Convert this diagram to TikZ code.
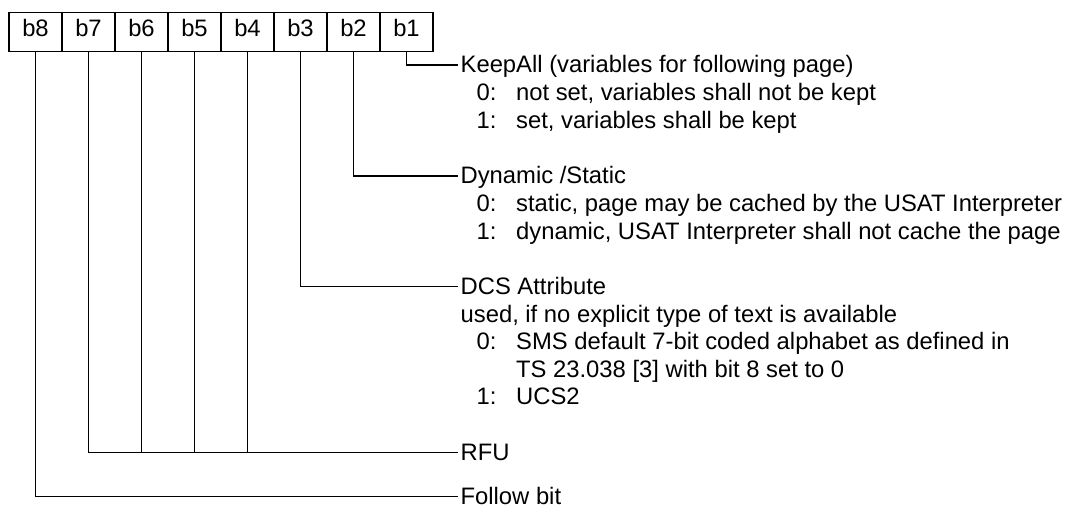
\documentclass[tikz,border=0pt]{standalone}
\usepackage{fontspec}
\setmainfont{Liberation Sans}
\begin{document}
\begin{tikzpicture}[x=1pt,y=-1pt,line width=1.3pt,
  every node/.style={font=\fontsize{23.8}{27.6}\selectfont},
  bitbox/.style={draw,rectangle,minimum width=53pt,minimum height=39pt,inner sep=0pt,text height=17pt,text depth=7.6pt},
  head/.style={anchor=base west,inner xsep=2pt,inner ysep=0pt,text height=15.6pt,text depth=0pt},
  desc/.style={anchor=base west,inner sep=0pt}]
\useasboundingbox (0,0) rectangle (1072,507);
% bit boxes
\foreach \n [count=\i from 0] in {8,7,6,5,4,3,2,1}
  \node[bitbox] (b\n) at (35.5+53*\i,32) {b\n};
% headings and descriptions
\node[head] (keep) at (458,72.8) {KeepAll (variables for following page)};
\node[desc] (k0n) at (476,100.6) {0:};
\node[desc] (k0t) at (515.5,100.6) {not set, variables shall not be kept};
\node[desc] (k1n) at (476,128.2) {1:};
\node[desc] (k1t) at (515.5,128.2) {set, variables shall be kept};
\node[head] (dyn) at (458,183.8) {Dynamic /Static};
\node[desc] (d0n) at (476,211.6) {0:};
\node[desc] (d0t) at (515.5,211.6) {static, page may be cached by the USAT Interpreter};
\node[desc] (d1n) at (476,239.2) {1:};
\node[desc] (d1t) at (515.5,239.2) {dynamic, USAT Interpreter shall not cache the page};
\node[head] (dcs) at (458,294.3) {DCS Attribute};
\node[desc] (dcsu) at (460,322) {used, if no explicit type of text is available};
\node[desc] (c0n) at (476,349.6) {0:};
\node[desc] (c0t) at (515.5,349.6) {SMS default 7-bit coded alphabet as defined in};
\node[desc] (c0u) at (515.5,377.2) {TS 23.038 [3] with bit 8 set to 0};
\node[desc] (c1n) at (476,404.8) {1:};
\node[desc] (c1t) at (515.5,404.8) {UCS2};
\node[head] (rfu) at (458,460.3) {RFU};
\node[head] (fol) at (458,504) {Follow bit};
% connectors
\draw (b1.south) |- (keep.west);
\draw (b2.south) |- (dyn.west);
\draw (b3.south) |- (dcs.west);
\draw (b7.south) |- (rfu.west);
\draw (b6.south) -- (b6.south |- rfu.west);
\draw (b5.south) -- (b5.south |- rfu.west);
\draw (b4.south) -- (b4.south |- rfu.west);
\draw (b8.south) |- (fol.west);
\end{tikzpicture}
\end{document}
